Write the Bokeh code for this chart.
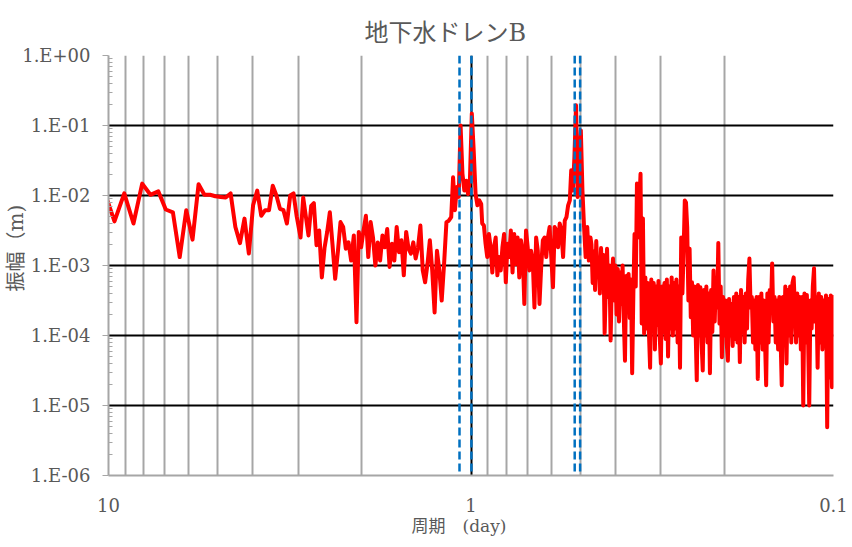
import numpy as np
from bokeh.plotting import figure
from bokeh.models import ColumnDataSource, Range1d, FixedTicker, Span, Title
from bokeh.embed import file_html
from bokeh.resources import INLINE

# ---------------- data (amplitude given as log10(m)) ----------------
# segment A: low-frequency FFT bins, f = f0 + n*df  (cycles/day)
seg_a_f0 = 0.0972
seg_a_df = 1.0 / 150.0
seg_a_log_amp = [-1.93, -2.37, -1.97, -2.40, -1.83, -1.99, -1.94, -2.20, -2.24, -2.88,
                 -2.21, -2.63, -1.84, -1.99, -1.99, -2.01, -2.02, -2.03, -1.97, -2.45,
                 -2.68, -2.33, -2.83, -2.14, -1.93, -2.29, -2.21, -2.21, -1.86, -2.00,
                 -2.19, -2.21, -2.40, -2.00, -1.97, -2.30]

# further segments: (period start, period end) in days, values evenly spread on the log axis
seg_b1_period = (2.953, 2.0696)
seg_b1_log_amp = [-2.60, -2.03, -2.30, -2.57, -2.15, -2.11, -2.71, -2.50, -3.17, -2.75,
                  -2.52, -2.24, -2.70, -3.19, -2.81, -2.38, -2.45, -2.76, -2.67, -2.93,
                  -2.57, -3.81]

seg_b2_period = (2.0396, 1.1514)
seg_b2_log_amp = [-2.52, -2.74, -2.50, -2.29, -2.88, -2.38, -2.60, -3.00, -2.67, -2.93,
                  -2.57, -2.74, -2.48, -3.02, -2.69, -2.93, -2.45, -2.81, -2.64, -3.14,
                  -2.52, -2.76, -2.83, -2.67, -2.90, -2.74, -2.43, -3.07, -3.24, -2.98,
                  -2.64, -3.07, -3.67, -2.79, -3.07, -3.50, -2.98, -2.38, -2.36]

seg_c1_period = (1.1340, 0.9373)
seg_c1_log_amp = [-2.31, -1.74, -2.21, -1.88, -2.02, -1.00, -1.69, -1.93, -1.79, -1.98,
                  -1.76, -0.83, -1.36, -1.98, -2.14, -2.07, -2.12]

seg_c2_period = (0.9313, 0.5338)
seg_c2_log_amp = [-2.40, -2.43, -2.69, -2.88, -2.55, -2.74, -3.10, -2.74, -2.60, -3.14,
                  -2.88, -3.07, -2.74, -2.55, -3.24, -2.69, -2.88, -2.50, -3.10, -2.55,
                  -2.98, -2.60, -3.17, -2.64, -2.79, -3.55, -2.50, -2.74, -3.07, -2.79,
                  -2.93, -3.60, -2.60, -2.79, -3.55, -3.02, -2.64, -2.60, -2.88, -2.60,
                  -2.45, -2.88, -3.31, -2.45, -2.50, -2.74, -2.40, -2.50, -2.88, -2.36,
                  -2.31, -2.14, -2.07]

seg_c3_period = (0.5291, 0.4682)
seg_c3_log_amp = [-1.64, -1.93, -1.45, -0.71, -2.02, -1.69, -1.07, -1.93, -2.45, -2.88,
                  -2.45, -2.93, -2.60]

seg_d_period = (0.4652, 0.0987)
seg_d_log_amp = [
    -2.70, -3.25, -2.80, -3.35, -2.65, -3.10, -2.90, -3.40, -2.75, -3.20,
    -2.85, -3.97, -3.30, -2.76, -3.45, -3.00, -4.07, -3.20, -2.90, -3.50,
    -3.00, -3.70, -3.05, -3.80, -3.10, -3.55, -3.00, -3.75, -4.36, -3.15,
    -3.60, -3.12, -3.75, -3.20, -4.54, -3.40, -2.55, -3.30, -1.83, -2.60,
    -2.10, -1.69, -3.83, -2.33, -3.97, -3.17, -3.90, -3.25, -3.95, -4.46,
    -3.20, -3.90, -3.25, -4.20, -3.30, -3.85, -3.22, -4.00, -4.40, -3.30,
    -3.95, -3.25, -4.05, -3.20, -4.30, -3.30, -3.90, -3.17, -4.00, -3.25,
    -3.90, -3.20, -4.10, -3.30, -4.46, -2.60, -3.40, -2.80, -2.07, -2.10,
    -2.45, -3.50, -2.76, -3.74, -3.24, -4.00, -3.30, -3.90, -4.64, -3.28,
    -4.00, -3.31, -4.10, -4.50, -3.35, -4.00, -3.30, -4.10, -3.40, -4.54,
    -3.35, -3.95, -3.07, -3.80, -3.20, -3.60, -2.68, -3.83, -3.30, -4.31,
    -3.45, -4.00, -3.50, -4.10, -4.36, -3.48, -4.00, -3.55, -4.15, -3.45,
    -4.05, -3.40, -4.10, -3.45, -4.38, -3.35, -3.95, -3.45, -4.10, -3.40,
    -3.90, -3.20, -2.90, -3.60, -3.45, -4.10, -3.50, -4.20, -3.45, -4.62,
    -3.45, -4.10, -3.40, -4.20, -3.50, -4.05, -4.71, -3.40, -4.10, -3.35,
    -3.60, -2.97, -3.80, -3.45, -4.10, -3.50, -4.20, -3.45, -4.00, -4.71,
    -3.45, -4.00, -3.30, -4.40, -3.35, -4.00, -3.30, -4.10, -3.25, -3.17,
    -3.60, -4.10, -3.40, -4.00, -3.45, -4.20, -3.45, -5.00, -3.40, -4.10,
    -3.42, -4.00, -5.00, -3.50, -3.90, -3.30, -3.04, -3.80, -3.45, -4.46,
    -3.40, -4.10, -3.45, -4.20, -3.50, -4.00, -3.43, -5.31, -3.48, -4.60,
    -3.43, -4.74, -3.45, -4.20, -3.55]

# tidal constituent periods (days): O1, K1, M2, S2
tide_periods = [1.0758, 0.9973, 0.5175, 0.5]

y_tick_values = [1e-6, 1e-5, 1e-4, 1e-3, 1e-2, 1e-1, 1.0]
y_tick_labels = ["1.E-06", "1.E-05", "1.E-04", "1.E-03", "1.E-02", "1.E-01", "1.E+00"]
x_tick_values = [0.1, 1.0, 10.0]
x_tick_labels = ["0.1", "1", "10"]

title_text = "地下水ドレンB"
x_title = "周期　(day)"
y_title = "振幅（m)"

# ---------------- assemble ----------------
periods = [1.0 / (seg_a_f0 + np.arange(len(seg_a_log_amp)) * seg_a_df)]
logs = [np.array(seg_a_log_amp)]
for (p0, p1), vals in [(seg_b1_period, seg_b1_log_amp), (seg_b2_period, seg_b2_log_amp),
                       (seg_c1_period, seg_c1_log_amp), (seg_c2_period, seg_c2_log_amp),
                       (seg_c3_period, seg_c3_log_amp), (seg_d_period, seg_d_log_amp)]:
    periods.append(np.geomspace(p0, p1, len(vals)))
    logs.append(np.array(vals))
period = np.concatenate(periods)
amp = 10.0 ** np.concatenate(logs)
src = ColumnDataSource(dict(period=period, amp=amp))

# ---------------- figure ----------------
mixed_font = "DejaVu Serif, Noto Sans CJK JP"

p = figure(width=852, height=547, x_axis_type="log", y_axis_type="log",
           x_range=Range1d(10, 0.1), y_range=Range1d(1e-6, 1.0),
           output_backend="svg", toolbar_location=None,
           min_border_left=108, min_border_right=19, min_border_top=55, min_border_bottom=72)
p.outline_line_color = None
p.background_fill_color = "white"
p.border_fill_color = "white"

p.title.text = title_text
p.title.align = "left"
p.title.offset = 256
p.title.standoff = 18
p.title.text_font = mixed_font
p.title.text_font_size = "24px"
p.title.text_font_style = "normal"
p.title.text_color = "#595959"

x_minor = [m * d for d in (0.1, 1.0) for m in range(2, 10)]
y_minor = [m * 10.0 ** e for e in range(-6, 0) for m in range(2, 10)]
p.xaxis.ticker = FixedTicker(ticks=x_tick_values, minor_ticks=x_minor)
p.yaxis.ticker = FixedTicker(ticks=y_tick_values, minor_ticks=y_minor)
p.xaxis.major_label_overrides = {v: s for v, s in zip(x_tick_values, x_tick_labels)}
p.yaxis.major_label_overrides = {v: s for v, s in zip(y_tick_values, y_tick_labels)}

for ax in (p.xaxis[0], p.yaxis[0]):
    ax.major_label_text_font = "DejaVu Serif"
    ax.major_label_text_font_size = "18px"
    ax.major_label_text_color = "#595959"
    ax.axis_line_color = "#A6A6A6"
    ax.axis_line_width = 2

p.xaxis.major_tick_line_color = None
p.xaxis.minor_tick_line_color = None
p.xaxis.major_label_standoff = 16

p.yaxis.major_tick_line_color = "#A6A6A6"
p.yaxis.major_tick_out = 6
p.yaxis.major_tick_in = 0
p.yaxis.minor_tick_line_color = "#A6A6A6"
p.yaxis.minor_tick_in = 4
p.yaxis.minor_tick_out = 0
p.yaxis.major_label_standoff = 12

p.xgrid.grid_line_color = "black"
p.xgrid.grid_line_width = 2
p.xgrid.minor_grid_line_color = "#A6A6A6"
p.xgrid.minor_grid_line_width = 2
p.ygrid.grid_line_color = "black"
p.ygrid.grid_line_width = 2
p.ygrid.minor_grid_line_color = None

p.line("period", "amp", source=src, line_color="#FF0000", line_width=4, line_join="round")

for tp in tide_periods:
    p.add_layout(Span(location=tp, dimension="height", line_color="#0070C0",
                      line_width=2.5, line_dash="8 4"))

p.add_layout(Title(text=x_title, align="left", offset=303, standoff=-1,
                   text_font=mixed_font, text_font_size="17px",
                   text_font_style="normal", text_color="#595959"), "below")
p.add_layout(Title(text=y_title, align="left", offset=184, standoff=-16,
                   text_font=mixed_font, text_font_size="20px",
                   text_font_style="normal", text_color="#595959"), "left")

open("out.html", "w").write(file_html(p, INLINE))
